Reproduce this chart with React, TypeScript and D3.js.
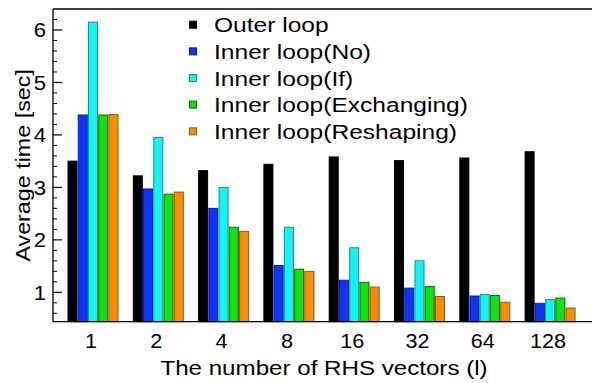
import React from "react";
import * as d3 from "d3";

const categories = ["1", "2", "4", "8", "16", "32", "64", "128"];
const seriesNames = [
  "Outer loop",
  "Inner loop(No)",
  "Inner loop(If)",
  "Inner loop(Exchanging)",
  "Inner loop(Reshaping)",
];
const outerLoop = [3.5, 3.22, 3.32, 3.44, 3.58, 3.51, 3.56, 3.68];
const innerNo = [4.38, 2.97, 2.6, 1.51, 1.23, 1.08, 0.93, 0.79];
const innerIf = [6.15, 3.95, 3.0, 2.24, 1.85, 1.6, 0.96, 0.86];
const innerExchanging = [4.38, 2.87, 2.24, 1.44, 1.19, 1.11, 0.94, 0.89];
const innerReshaping = [4.39, 2.91, 2.16, 1.4, 1.1, 0.92, 0.81, 0.7];
const yTicks = [1, 2, 3, 4, 5, 6];

const seriesValues = [outerLoop, innerNo, innerIf, innerExchanging, innerReshaping];
const fills = ["#000000", "#1133ff", "#11f4f4", "#11e011", "#ff8c00"];
const strokes = ["#000000", "#0a1f80", "#2a8888", "#0a6a0a", "#8a5a20"];

const W = 592;
const H = 383;
const left = 53;
const right = 592;
const top = 9;
const bottom = 321.7;
const FONT = "'Liberation Sans', Arial, Helvetica, sans-serif";

export default function App() {
  const y = d3.scaleLinear().domain([0.44, 6.4]).range([bottom, top]);
  const x = d3.scaleBand<string>().domain(categories).range([59.35, 581.75]);
  const inner = d3
    .scaleBand<string>()
    .domain(seriesNames)
    .range([-24, 26])
    .paddingInner(0.12)
    .paddingOuter(0);
  const minorTicks = d3.range(0.6, 6.39, 0.2).filter((v) => Math.abs(v - Math.round(v)) > 0.01);

  return (
    <svg
      width={W}
      height={H}
      style={{ position: "absolute", left: 0, top: 0, background: "#fff" }}
      fontFamily={FONT}
    >
      <rect x={0} y={0} width={W} height={H} fill="#fff" />
      {categories.map((c, ci) => (
        <g key={c} transform={`translate(${x(c)! + x.bandwidth() / 2},0)`}>
          {seriesNames.map((s, si) => {
            const v = seriesValues[si][ci];
            return (
              <rect
                key={s}
                x={inner(s)!}
                y={y(v)}
                width={inner.bandwidth()}
                height={bottom - y(v)}
                fill={fills[si]}
                stroke={strokes[si]}
                strokeWidth={1}
              />
            );
          })}
        </g>
      ))}
      <line x1={left} x2={right} y1={top} y2={top} stroke="#000" strokeWidth={1.3} />
      <line x1={left} x2={right} y1={bottom} y2={bottom} stroke="#000" strokeWidth={1.3} />
      <line x1={left} x2={left} y1={top} y2={bottom} stroke="#000" strokeWidth={1.3} />
      {yTicks.map((t) => (
        <g key={t}>
          <line x1={left} x2={left + 9} y1={y(t)} y2={y(t)} stroke="#000" strokeWidth={1.2} />
          <text
            transform={`translate(46,${y(t) + 7.3}) scale(1.08,1)`}
            textAnchor="end"
            fontSize={20.5}
            fill="#000"
          >
            {t}
          </text>
        </g>
      ))}
      {minorTicks.map((t) => (
        <line key={t} x1={left} x2={left + 4} y1={y(t)} y2={y(t)} stroke="#000" strokeWidth={1} />
      ))}
      {categories.map((c) => (
        <text
          key={c}
          transform={`translate(${x(c)! + x.bandwidth() / 2 - 1},348) scale(1.08,1)`}
          textAnchor="middle"
          fontSize={20}
          fill="#000"
        >
          {c}
        </text>
      ))}
      <text
        transform="translate(324,375) scale(1.15,1)"
        textAnchor="middle"
        fontSize={21}
        fill="#000"
      >
        The number of RHS vectors (l)
      </text>
      <text
        transform={`translate(30,${(top + bottom) / 2}) rotate(-90) scale(1.11,1)`}
        textAnchor="middle"
        fontSize={21}
        fill="#000"
      >
        Average time [sec]
      </text>
      {seriesNames.map((s, si) => {
        const cy = 24.7 + si * 26.65;
        return (
          <g key={s}>
            <rect
              x={189.5}
              y={cy - 3.5}
              width={7}
              height={7}
              fill={fills[si]}
              stroke={strokes[si]}
              strokeWidth={1}
            />
            <text
              transform={`translate(214,${cy + 7.5}) scale(1.17,1)`}
              fontSize={21}
              fill="#000"
            >
              {s}
            </text>
          </g>
        );
      })}
    </svg>
  );
}
